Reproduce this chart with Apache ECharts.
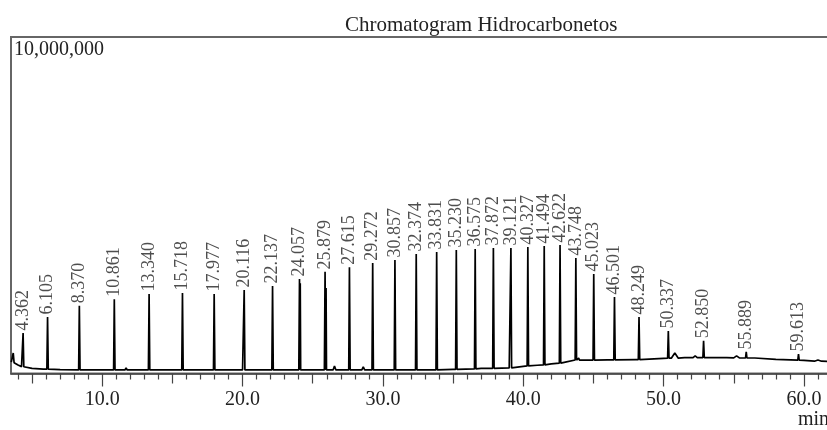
<!DOCTYPE html>
<html>
<head>
<meta charset="utf-8">
<title>Chromatogram Hidrocarbonetos</title>
<script src="https://cdn.jsdelivr.net/npm/echarts@6/dist/echarts.min.js"></script>
<style>
  html, body { margin: 0; padding: 0; background: #fff; }
  #chromatogram { width: 827px; height: 430px; }
</style>
</head>
<body>
<div id="chromatogram"></div>
<script>
// Labelled peaks: retention time (min), apex height and baseline under the peak (counts)
const peakTimes = [
  4.362, 6.105, 8.370, 10.861, 13.340, 15.718, 17.977, 20.116, 22.137, 24.057,
  25.879, 27.615, 29.272, 30.857, 32.374, 33.831, 35.230, 36.575, 37.872, 39.121,
  40.327, 41.494, 42.622, 43.748, 45.023, 46.501, 48.249, 50.337, 52.850, 55.889, 59.613
];
const peakHeights = [
  1200000, 1680000, 2010000, 2210000, 2360000, 2390000, 2360000, 2480000, 2600000, 2810000,
  3020000, 3160000, 3280000, 3370000, 3550000, 3610000, 3670000, 3700000, 3730000, 3730000,
  3760000, 3790000, 3820000, 3430000, 2960000, 2270000, 1680000, 1260000, 970000, 640000, 580000
];
const peakFoot = [
  200000, 130000, 105000, 105000, 105000, 105000, 105000, 105000, 105000, 105000,
  105000, 105000, 105000, 105000, 105000, 105000, 120000, 135000, 155000, 165000,
  225000, 255000, 310000, 400000, 400000, 405000, 415000, 455000, 470000, 460000, 395000
];

// Small unlabelled bumps and shoulders: time, apex, baseline, half width (min)
const bumpTimes = [3.66, 11.70, 24.11, 25.95, 26.55, 28.60, 43.95, 50.80, 52.25, 55.20, 61.00];
const bumpHeights = [609000, 165000, 2680000, 2540000, 225000, 195000, 460000, 610000, 525000, 525000, 400000];
const bumpFoot = [320000, 105000, 105000, 105000, 105000, 105000, 400000, 455000, 470000, 465000, 365000];
const bumpWidth = [0.06, 0.08, 0.03, 0.03, 0.1, 0.1, 0.1, 0.25, 0.15, 0.2, 0.25];

// Baseline drift of the trace: time (min), counts
const baseTimes = [3.52, 3.80, 4.00, 4.25, 5.0, 5.8, 7.0, 9.0, 20.0, 30.0, 33.0, 35.0, 37.0, 39.0,
  40.0, 41.0, 42.0, 43.0, 44.0, 46.0, 48.0, 50.0, 51.5, 53.5, 54.5, 56.5, 58.0, 60.0, 61.8];
const baseValues = [340000, 280000, 250000, 205000, 150000, 130000, 115000, 105000, 105000, 105000,
  105000, 120000, 150000, 165000, 210000, 245000, 285000, 340000, 400000, 405000, 415000, 450000,
  470000, 475000, 470000, 460000, 420000, 390000, 360000];

// Axis ticks
const minorTicks = [4, 6, 7, 8, 9, 11, 12, 13, 14, 16, 17, 18, 19, 21, 22, 23, 24, 26, 27, 28, 29,
  31, 32, 33, 34, 36, 37, 38, 39, 41, 42, 43, 44, 46, 47, 48, 49, 51, 52, 53, 54, 56, 57, 58, 59, 61];
const midTicks = [5, 15, 25, 35, 45, 55];
const majorTicks = [10, 20, 30, 40, 50, 60];
const yTopLabel = [10000000];

document.addEventListener("DOMContentLoaded", function () {
  const serif = "'Liberation Serif', 'DejaVu Serif', serif";
  const ink = "#222";

  // Build the trace: baseline points, then a narrow triangle per peak
  const trace = baseTimes.map((t, i) => [t, baseValues[i]]);
  const halfWidth = 0.05;
  peakTimes.forEach((t, i) => {
    trace.push([t - halfWidth, peakFoot[i]], [t, peakHeights[i]], [t + halfWidth, peakFoot[i]]);
  });
  bumpTimes.forEach((t, i) => {
    trace.push([t - bumpWidth[i], bumpFoot[i]], [t, bumpHeights[i]], [t + bumpWidth[i], bumpFoot[i]]);
  });
  trace.sort((a, b) => a[0] - b[0]);

  const xBase = {
    type: "value",
    min: 3.5,
    max: 62,
    position: "bottom",
    splitLine: { show: false },
    axisLabel: { show: false },
    axisLine: { show: false },
  };

  const option = {
    animation: false,
    title: {
      text: "Chromatogram Hidrocarbonetos",
      left: 345,
      top: 15,
      padding: 0,
      textStyle: { fontFamily: serif, fontSize: 21, fontWeight: "normal", color: ink },
    },
    // the plot runs past the right edge of the picture, as in the original
    grid: {
      left: 11,
      top: 37,
      width: 821,
      bottom: 56.5,
      outerBoundsMode: "none",
      show: true,
      borderColor: "#666",
      borderWidth: 2,
    },
    xAxis: [
      {
        ...xBase,
        axisLine: { show: true, lineStyle: { color: "#444", width: 1.5 } },
        axisTick: { customValues: minorTicks, length: 6, lineStyle: { color: "#444", width: 1.2 } },
      },
      {
        ...xBase,
        axisTick: { customValues: midTicks, length: 10, lineStyle: { color: "#444", width: 1.2 } },
      },
      {
        ...xBase,
        axisTick: { customValues: majorTicks, length: 13, lineStyle: { color: "#444", width: 1.2 } },
        axisLabel: {
          show: true,
          customValues: majorTicks,
          margin: 16,
          formatter: (v) => v.toFixed(1),
          fontFamily: serif,
          fontSize: 20,
          color: ink,
        },
      },
    ],
    yAxis: {
      type: "value",
      min: 0,
      max: 10000000,
      splitLine: { show: false },
      axisLine: { show: false },
      axisTick: { show: false },
      axisLabel: {
        customValues: yTopLabel,
        inside: true,
        margin: 3,
        verticalAlign: "top",
        padding: [3, 0, 0, 0],
        formatter: (v) => v.toLocaleString("en-US"),
        fontFamily: serif,
        fontSize: 20,
        color: ink,
      },
    },
    graphic: [
      {
        type: "text",
        left: 798,
        top: 410,
        style: { text: "min", fontFamily: serif, fontSize: 20, fill: ink },
      },
    ],
    series: [
      {
        name: "trace",
        type: "line",
        xAxisIndex: 0,
        data: trace,
        symbol: "none",
        lineStyle: { color: "#000", width: 1.7 },
      },
      {
        name: "peak labels",
        type: "scatter",
        xAxisIndex: 0,
        data: peakTimes.map((t, i) => [t, peakHeights[i]]),
        symbolSize: 1,
        itemStyle: { color: "transparent" },
        label: {
          show: true,
          position: "top",
          distance: 2,
          rotate: 90,
          align: "left",
          verticalAlign: "middle",
          formatter: (p) => p.value[0].toFixed(3),
          fontFamily: serif,
          fontSize: 18,
          color: ink,
        },
      },
    ],
  };

  const chart = echarts.init(document.getElementById("chromatogram"));
  chart.setOption(option);
  window.addEventListener("resize", () => chart.resize());
});
</script>
</body>
</html>
